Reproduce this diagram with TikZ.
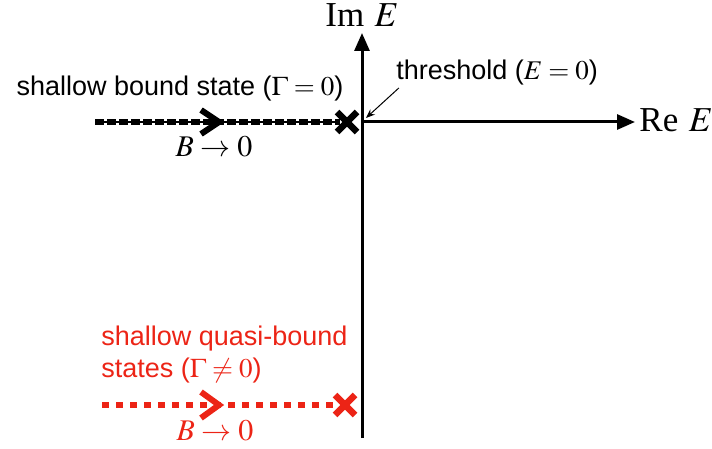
\documentclass[tikz,border=0pt]{standalone}
\usepackage{mathptmx}
\usepackage[no-math]{fontspec}
\setmainfont{Liberation Serif}
\setsansfont{Liberation Sans}
\usetikzlibrary{arrows.meta}
\definecolor{QBred}{RGB}{236,36,22}

\begin{document}
\begin{tikzpicture}[x=0.5pt, y=-0.5pt,
  every node/.style={font=\sffamily\fontsize{13.5}{16}\selectfont, inner sep=0pt},
  axislabel/.style={font=\rmfamily\fontsize{17.5}{20}\selectfont},
  limlabel/.style={font=\fontsize{15}{17}\selectfont},
  axisline/.style={line width=1.5pt, -{Triangle[length=9pt,width=7.5pt]}},
  bounddash/.style={line width=2.8pt, dash pattern=on 4.5pt off 1.5pt},
  quasidash/.style={QBred, line width=3pt, dash pattern=on 3.5pt off 3.5pt},
  chevron/.style={line width=3pt, miter limit=4},
  crossmark/.style={line width=3.2pt},
]
  \useasboundingbox (0,0) rectangle (712,449);

  % axes
  \coordinate (O) at (362,122);
  \coordinate (imlow) at (362,438);
  \coordinate (imtop) at (362,33);
  \coordinate (retip) at (635,122);
  \draw[axisline] (imlow) -- (imtop);
  \draw[axisline] (O) -- (retip);
  \node[axislabel] (imlab) at (362,15) {Im\hspace{0.3em}$E$};
  \node[axislabel, anchor=west] (relab) at (639,120) {Re\hspace{0.3em}$E$};

  % threshold
  \node (thr) at (497,73) {threshold ($E=0$)};
  \coordinate (thtip) at (366,118);
  \draw[line width=0.5pt, -{Stealth[length=4.5pt,width=3.5pt]}]
     ([xshift=1.5pt,yshift=-1pt]thr.south west) -- (thtip);

  % shallow bound state
  \node (bslab) at (180,89) {shallow bound state ($\Gamma=0$)};
  \draw[line width=1pt] (95,122) -- (340,122);
  \draw[bounddash] (95,122) -- (340,122);
  \draw[chevron] (201,110) -- (219,122) -- (201,134);
  \draw[crossmark] (337,112) -- (357,132) (337,132) -- (357,112);
  \node[limlabel] (bslim) at (214,147) {$B\to0$};

  % shallow quasi-bound states
  \node[QBred, anchor=west] (qblab1) at (101,339) {shallow quasi-bound};
  \node[QBred, anchor=west] (qblab2) at (101,371) {states ($\Gamma\neq0$)};
  \draw[quasidash] (102,405) -- (333,405);
  \draw[chevron, QBred] (201,392) -- (219,405) -- (201,418);
  \draw[crossmark, QBred] (335,395) -- (355,415) (335,415) -- (355,395);
  \node[limlabel, QBred] (qblim) at (215,431) {$B\to0$};
\end{tikzpicture}
\end{document}
